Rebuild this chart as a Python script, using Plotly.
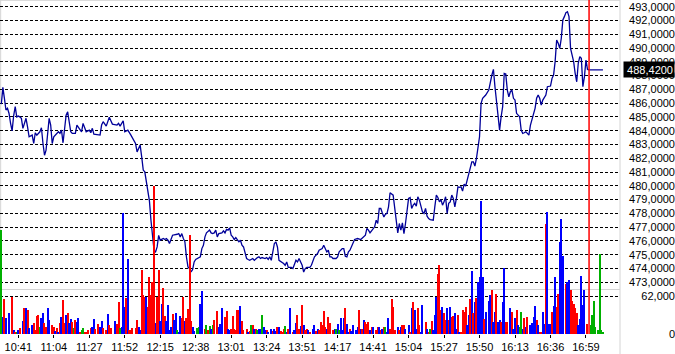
import plotly.graph_objects as go

# ---------------- data ----------------
tick_index = [11, 34, 57, 80, 103, 126, 149, 172, 195, 218, 241, 264, 287, 310, 333, 356, 379]
tick_labels = ["10:41", "11:04", "11:27", "11:52", "12:15", "12:38", "13:01", "13:24", "13:51",
               "14:17", "14:41", "15:04", "15:27", "15:50", "16:13", "16:36", "16:59"]

price_idx = [0, 1, 2, 3, 4, 5, 6, 7, 8, 9, 10, 11, 12, 13, 14, 16, 17, 18, 20, 21, 22, 23, 25, 26, 27, 28, 29, 30,
             31, 32, 33, 34, 35, 37, 38, 39, 40, 41, 42, 43, 44, 45, 46, 48, 49, 51, 52, 53, 54, 55, 57, 58, 59, 60,
             64, 65, 66, 68, 70, 71, 72, 75, 76, 77, 79, 80, 82, 84, 87, 88, 90, 91, 92, 93, 94, 95,
             96, 97, 98, 99, 100, 101, 102, 103, 105, 106, 107, 108, 109, 110, 111, 114, 115, 116, 117, 118, 119,
             120, 121, 122, 123, 124, 125, 126, 128, 129, 130, 131, 132, 133, 135, 136, 137, 138, 139, 140, 141,
             143, 144, 145, 146, 147, 148, 149, 150, 151, 152, 154, 155, 156, 157, 158, 159, 160, 161, 163, 164,
             166, 167, 168, 169, 171, 172, 173, 174, 175, 176, 177, 178, 179, 180, 182, 183, 184, 185, 186, 188,
             189, 190, 191, 192, 193, 195, 196, 197, 198, 200, 201, 203, 204, 205, 206, 208, 209, 210, 211, 212,
             213, 214, 215, 217, 218, 219, 221, 222, 223, 224, 225, 226,
             229, 231, 233, 236, 237, 238, 239, 240, 241, 242, 243, 244, 245, 246, 247, 248, 249, 250, 251, 252,
             254, 255, 256, 257, 258, 259, 260, 261, 262, 263, 264, 265, 266, 267, 268, 269, 270, 271, 272, 273,
             274, 275, 276, 277, 278, 280, 281, 282, 283, 284, 285, 286, 287, 288, 289, 290, 291, 292, 293, 294,
             295, 296, 297, 298, 299, 300, 301, 302, 303, 304, 305, 306, 307, 308, 309,
             310, 311, 312, 314, 316, 318, 319, 320, 321, 322, 323, 324, 325, 326, 327, 328, 329, 330, 331, 332,
             333, 334, 336, 337, 338, 339, 340, 341, 342, 343, 344, 345, 346, 347, 348, 349, 350, 351, 353, 354,
             356, 357, 358, 359, 360, 361, 362, 363, 364, 365, 366, 367, 368, 369, 370, 371, 372, 373, 374, 375,
             376, 377, 378, 379, 380, 381, 390]
price_val = [485.93, 487.14, 486.35, 485.50, 485.62, 485.25, 484.53, 483.99, 485.10, 485.74, 485.00, 485.06, 485.00,
             484.90, 484.17, 484.90, 484.28, 483.56, 483.68, 483.07, 483.85, 483.68, 483.92, 484.21, 483.07, 482.22,
             482.59, 483.80, 484.90, 484.41, 483.07, 483.56, 483.68, 483.92, 483.80, 484.04, 483.12, 484.04, 485.13,
             485.37, 484.77, 483.92, 483.80, 483.80, 484.41, 484.04, 483.92, 484.53, 484.28, 483.92, 484.04, 483.85,
             484.17, 483.75, 483.68, 484.41, 484.65, 484.33, 484.97, 484.65, 484.48, 484.41, 484.53, 484.33, 484.72,
             483.92, 484.04, 483.68, 483.07, 482.46, 482.95, 482.10, 481.14, 481.01, 480.29, 479.44,
             478.90, 477.50, 476.05, 475.30, 475.20, 475.56, 476.40, 476.05, 476.17, 476.10, 476.17, 476.05, 475.81,
             476.05, 476.41, 476.48, 476.53, 476.29, 476.53, 476.17, 475.93, 474.83, 474.11, 473.99, 473.74, 473.92,
             474.47, 474.65, 474.79, 474.84, 475.44, 475.68, 476.29, 476.58, 476.78, 476.58, 476.53, 476.58, 476.78,
             476.29, 476.53, 476.58, 476.73, 476.58, 476.83, 476.78, 476.94, 476.41, 476.29, 476.10, 476.24, 475.93,
             476.05, 475.68, 475.56, 475.20, 474.72, 474.65, 474.59, 474.72, 474.59, 474.79, 474.84, 474.72, 474.79,
             474.72, 474.79, 474.65, 474.84, 474.59, 475.20, 475.81, 475.93, 475.56, 474.59, 474.47, 474.36, 474.23,
             474.47, 474.07, 474.07, 473.99, 474.23, 474.59, 474.47, 474.72, 474.23, 473.74, 473.99, 474.07, 474.07,
             474.23, 474.84, 474.96, 475.08, 475.32, 475.44, 475.68, 475.44, 475.20, 475.32, 474.84, 474.84, 474.72,
             474.72, 474.84, 475.20, 475.44, 475.44, 474.88, 474.84, 475.20, 475.32,
             476.10, 476.17, 476.10, 476.41, 476.90, 476.78, 476.58, 476.73, 476.90, 477.02, 477.50, 477.26, 478.35,
             478.35, 478.03, 477.74, 477.94, 477.99, 478.47, 479.49, 479.32, 478.47, 477.50, 476.58, 477.26, 476.78,
             477.31, 476.53, 477.26, 478.23, 479.08, 479.15, 478.35, 478.59, 478.72, 478.52, 479.20, 478.96, 478.47,
             478.11, 477.99, 478.35, 477.79, 477.62, 477.55, 477.50, 478.47, 479.32, 479.15, 478.83, 479.00, 478.59,
             478.83, 479.20, 477.99, 478.72, 478.83, 479.32, 479.08, 478.47, 479.08, 479.92, 479.88, 479.92, 479.61,
             480.12, 479.97, 480.41, 480.77, 481.26, 481.74, 481.74, 481.43, 481.99, 482.83,
             483.56, 485.98, 486.35, 486.59, 486.95, 488.04, 488.45, 487.19, 485.98, 485.01, 484.04, 485.01, 485.74,
             488.16, 488.11, 486.95, 486.46, 486.83, 486.95, 486.35, 486.22, 485.26, 485.01, 484.04, 483.80, 483.85,
             483.92, 483.80, 483.68, 484.41, 484.89, 485.26, 485.62, 486.35, 486.59, 486.35, 485.86, 486.22, 486.59,
             487.19, 487.24, 487.80, 488.04, 489.01, 490.58, 490.34, 489.98, 490.71, 492.04, 492.28, 492.57, 492.64,
             492.28, 489.98, 489.49, 489.01, 488.16, 487.55, 488.89, 489.37, 489.25, 487.19, 487.92, 489.13, 488.45,
             488.42, 488.42]

# volume bars: index, volume (thousands), direction (r = down, b = up, g = unchanged)
vol_idx = [0, 1, 2, 3, 5, 7, 8, 9, 10, 11, 12, 14, 15, 16, 17, 18, 20, 21, 22, 23, 24, 25, 26, 27, 28, 29, 30, 31,
           33, 34, 35, 36, 37, 38, 39, 40, 41, 42, 43, 44, 45, 46, 47, 48, 49, 50, 51, 52, 53, 54, 55, 56, 58, 59,
           60, 61, 63, 64, 65, 66, 68, 69, 70, 71, 74, 75, 76, 77, 78, 79, 80, 81, 82, 83, 84, 85, 87, 88, 89, 90,
           91, 92, 93, 94, 95, 96, 97, 98, 99, 100, 101, 102, 103, 104, 105, 106, 107, 108, 109, 110, 111, 112,
           113, 114, 115, 116, 117, 118, 119, 120, 121, 122, 123, 124, 125, 127, 128,
           129, 130, 132, 133, 134, 135, 136, 137, 138, 140, 141, 142, 143, 145, 146, 147, 148, 149, 150, 151,
           152, 153, 154, 155, 156, 157, 159, 160, 161, 162, 163, 164, 165, 166, 167, 168, 169, 170, 171, 172,
           173, 175, 176, 177, 178, 179, 180, 181, 182, 183, 184, 185, 186, 187, 189, 190, 191, 192, 193, 194,
           195, 196, 197, 198, 199, 200, 202, 203, 204, 205, 206, 207, 208, 209, 210, 211, 212, 213, 215, 216,
           217, 218, 219, 220, 221, 222, 223, 224, 225, 226, 227, 228, 230, 231, 232, 233, 234, 235, 236, 237,
           238, 239, 240, 241, 243, 244, 245, 246, 247, 248, 249, 250, 251, 252, 253, 254, 255, 257, 258,
           259, 260, 261, 262, 264, 265, 266, 267, 268, 269, 270, 271, 272, 273, 275, 276, 277, 278, 279, 280,
           281, 282, 283, 284, 285, 286, 287, 288, 289, 290, 291, 292, 293, 294, 295, 296, 297, 298, 299, 300,
           301, 302, 303, 304, 305, 306, 307, 308, 309, 310, 311, 312, 313, 314, 316, 317, 318, 319, 320, 321,
           322, 323, 324, 325, 326, 327, 328, 330, 331, 332, 333, 334, 335, 336, 337, 338, 339, 340, 341, 343,
           344, 345, 346, 347, 348, 349, 350, 351, 352, 353, 354, 355, 356, 357, 358, 359, 360, 361, 362, 363,
           364, 366, 367, 368, 369, 370, 371, 372, 373, 374, 375, 376, 377, 378, 380, 382, 383, 384, 385, 387,
           388, 389, 390]
vol_k = [171, 28, 57, 26, 34, 61, 7, 4, 3, 7, 10, 22, 42, 42, 40, 10, 15, 18, 7, 30, 31, 12, 26, 34, 18, 11, 42, 23,
         15, 12, 5, 10, 4, 18, 28, 56, 18, 31, 34, 18, 24, 19, 10, 23, 19, 26, 4, 7, 10, 4, 3, 7, 10, 11,
         24, 8, 16, 12, 21, 10, 7, 33, 14, 10, 21, 17, 52, 10, 12, 199, 45, 59, 124, 7, 7, 10, 10, 23, 11, 7,
         105, 64, 61, 61, 45, 94, 64, 86, 243, 18, 61, 105, 21, 50, 75, 29, 21, 48, 7, 11, 33, 23,
         34, 7, 4, 29, 26, 61, 21, 26, 41, 162, 21, 12, 5, 10, 12,
         50, 71, 9, 15, 7, 13, 9, 15, 23, 38, 12, 17, 42, 28, 38, 9, 7, 8, 29, 9,
         7, 39, 39, 46, 22, 7, 9, 4, 5, 15, 15, 9, 9, 7, 9, 9, 31, 12, 7, 7,
         4, 9, 5, 8, 5, 12, 12, 5, 4, 8, 13, 4, 9, 42, 4, 7, 18, 31, 9, 13,
         47, 15, 7, 9, 7, 4, 9, 15, 5, 9, 7, 20, 15, 38, 12, 9, 28, 18, 7, 8,
         9, 16, 7, 26, 7, 26, 42, 17, 4, 9, 5, 15, 7, 12, 39, 9, 9, 23, 20, 17,
         20, 7, 12, 12, 7, 12, 12, 7, 9, 12, 11, 4, 26, 9, 57, 45, 7, 12, 7,
         12, 15, 14, 9, 15, 4, 42, 53, 40, 8, 42, 15, 4, 47, 20, 9, 4, 9, 22, 7,
         31, 61, 99, 113, 39, 45, 34, 23, 42, 23, 45, 28, 29, 34, 9, 31, 4, 4, 40, 36,
         45, 15, 31, 58, 104, 34, 53, 60, 85, 94, 218, 94, 24, 36, 55, 64, 72, 20, 36, 66,
         20, 23, 20, 53, 109, 20, 20, 42, 36, 9, 26, 39, 15, 12, 36, 9, 26, 12, 28, 15,
         18, 28, 46, 23, 15, 4, 4, 36, 16, 181, 200, 17, 16, 36, 46, 94, 45, 65, 151, 189,
         129, 83, 85, 88, 72, 55, 50, 42, 34, 15, 24, 95, 47, 72, 17, 15, 31, 54, 12, 7,
         132, 7, 4]
vol_dir = list(
    "gbrbbrbrgbrbrbrbbrrrrgbbrrbb"
    "rrbrbrbrrbrbbrgrbbrggrrrrb"
    "brrbbrrbrrbrrgbbbrbrrrrrbb"
    "rrrbrrrrrbrrbbrrbbbbrb"
    "bgbbrrbrrrrbbgg"
    "bbrgrgbgrrbbbrrbbrrr"
    "rrrbrrrbrgrbrgbbgbbr"
    "bbrbbrbrrrgbrbrbbrrb"
    "rbrrbrbbrbrrrrrbrrrb"
    "gbgbbbrbbrbbbbrbrbrr"
    "rbrbrrbrbrgbbrrrrbr"
    "brrbbrbrbbrrbbrbrgrb"
    "bbrrrbrrbrbrrbbrbrrr"
    "rbbrbrbrbbbbrbbbrbbr"
    "bbrbbrrbrbbrbggbrbrb"
    "bbbrbrrbbrbbbrbbrrbb"
    "brbbrrrrrbbbbbrggggg"
    "ggg")

cursor_index = 381
last_price = 488.42
price_ticks = list(range(473, 494))
vol_ticks = [0, 62000]
vol_tick_labels = ["0", "62,000"]

# ---------------- figure ----------------
col_map = {"r": "#ff0000", "b": "#0000ff", "g": "#00b000"}
n = min(len(vol_idx), len(vol_k), len(vol_dir))
bar_colors = [col_map[c] for c in vol_dir[:n]]
vol_vals = [v * 1000 for v in vol_k[:n]]

W, H = 675, 354
plot_right = 620
plot_bottom = 334
px_per_bar = 1.5426
x0 = -0.86
x1 = x0 + plot_right / px_per_bar
px_per_unit = 13.775
y_top = 493 + 6.7 / px_per_unit
y_bot = y_top - plot_bottom / px_per_unit
vol_top = 62000 / (plot_bottom - 296.3) * plot_bottom

font = dict(family="Liberation Sans, Arial, sans-serif", size=11, color="black")

fig = go.Figure()
fig.add_trace(go.Scatter(x=price_idx, y=price_val, mode="lines",
                         line=dict(color="#000099", width=1.3), yaxis="y", hoverinfo="skip"))
fig.add_trace(go.Bar(x=vol_idx[:n], y=vol_vals, marker=dict(color=bar_colors, line=dict(width=0)),
                     width=0.68, yaxis="y2", hoverinfo="skip"))

fig.update_layout(
    width=W, height=H,
    margin=dict(l=0, r=0, t=0, b=H - plot_bottom),
    paper_bgcolor="white", plot_bgcolor="white",
    showlegend=False, font=font, bargap=0,
    xaxis=dict(domain=[0, plot_right / W], range=[x0, x1], tickvals=tick_index, ticktext=tick_labels,
               ticks="outside", ticklen=3, tickcolor="black", tickwidth=1, showgrid=False,
               zeroline=False, showline=False, tickfont=font),
    yaxis=dict(range=[y_bot, y_top], anchor="free", position=1.0, side="left",
               tickvals=price_ticks, ticktext=[f"{v},0000" for v in price_ticks],
               ticks="", showgrid=True, gridcolor="black", gridwidth=1, griddash="3px,2px",
               zeroline=False, showline=False, tickfont=font, ticklabeloverflow="allow"),
    yaxis2=dict(range=[0, vol_top], anchor="free", position=1.0, side="left", overlaying="y",
                tickvals=vol_ticks, ticktext=vol_tick_labels,
                ticks="", showgrid=True, gridcolor="black", gridwidth=1, griddash="3px,2px",
                zeroline=False, showline=False, tickfont=font, ticklabeloverflow="allow"),
)

sep_color = "#d4d4d4"
xr = plot_right / W
fig.add_shape(type="line", xref="paper", yref="paper", x0=xr, x1=xr, y0=-(H - plot_bottom) / plot_bottom, y1=1,
              line=dict(color=sep_color, width=1), layer="below")
fig.add_shape(type="line", xref="paper", yref="paper", x0=0, x1=xr, y0=(plot_bottom - 289.5) / plot_bottom,
              y1=(plot_bottom - 289.5) / plot_bottom, line=dict(color=sep_color, width=1), layer="below")
fig.add_shape(type="line", xref="paper", yref="paper", x0=0, x1=xr, y0=0.999, y1=0.999,
              line=dict(color=sep_color, width=1), layer="below")
fig.add_shape(type="line", xref="paper", yref="paper", x0=0.001, x1=0.001, y0=0, y1=1,
              line=dict(color=sep_color, width=1), layer="below")
fig.add_shape(type="line", xref="x", yref="paper", x0=cursor_index, x1=cursor_index, y0=0, y1=1,
              line=dict(color="#ff0000", width=1.5), layer="above")

fig.add_annotation(x=1.0, xref="paper", xanchor="right", y=last_price, yref="y", yanchor="middle",
                   text=f"{last_price:.4f}".replace(".", ","), showarrow=False,
                   bgcolor="black", font=dict(family=font["family"], size=11, color="white"),
                   width=48, height=13, borderpad=1, align="right")

fig.write_html("out.html")
